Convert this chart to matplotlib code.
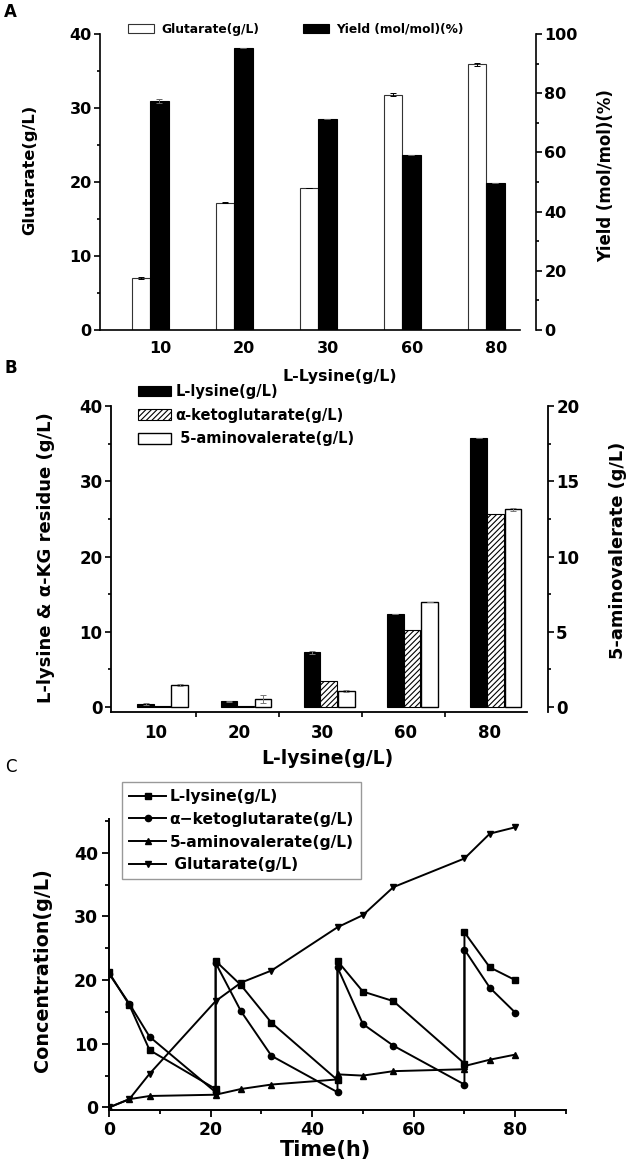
import numpy as np
import matplotlib.pyplot as plt
from matplotlib.ticker import MultipleLocator, FixedLocator

plt.rcParams['font.family'] = ['DejaVu Sans']
plt.rcParams['font.weight'] = 'bold'
plt.rcParams['hatch.linewidth'] = 0.8

# panel A
feed = ['10', '20', '30', '60', '80']
glutarate_A = [7.0, 17.2, 19.2, 31.8, 35.9]
glutarate_A_err = [0.1, 0.1, 0.0, 0.2, 0.2]
yield_A = [77.3, 95.4, 71.2, 59.0, 49.8]
yield_A_err = [0.6, 0.0, 0.0, 0.0, 0.0]

# panel B
lysine_B = [0.4, 0.75, 7.25, 12.3, 35.8]
lysine_B_err = [0.1, 0.05, 0.15, 0.0, 0.0]
akg_B = [0.15, 0.15, 3.5, 10.2, 25.6]
ava_B = [1.45, 0.55, 1.05, 6.95, 13.15]
ava_B_err = [0.05, 0.25, 0.05, 0.0, 0.1]

# panel C
t_lys = [0, 4, 8, 21, 21, 26, 32, 45, 45, 50, 56, 70, 70, 75, 80]
lysine_C = [21.2, 16.1, 9.0, 2.9, 23.0, 19.2, 13.3, 4.3, 23.0, 18.2, 16.7, 6.9, 27.5, 22.0, 20.0]
akg_C = [21.0, 16.3, 11.1, 2.4, 22.7, 15.1, 8.1, 2.4, 22.0, 13.1, 9.7, 3.6, 24.8, 18.8, 14.9]
t_ava = [0, 4, 8, 21, 26, 32, 45, 45, 50, 56, 70, 70, 75, 80]
ava_C = [0.0, 1.3, 1.8, 2.0, 2.9, 3.6, 4.4, 5.2, 5.0, 5.7, 6.0, 6.5, 7.5, 8.3]
t_glu = [0, 4, 8, 21, 26, 32, 45, 50, 56, 70, 75, 80]
glutarate_C = [0.0, 1.3, 5.3, 16.7, 19.6, 21.5, 28.3, 30.2, 34.6, 39.1, 43.0, 44.0]

W, H = 632, 1168
fig = plt.figure(figsize=(W / 100, H / 100), dpi=100)


def fx(px):
    return px / W


def fy(py):
    return 1 - py / H


def box(x0, x1, y_top, y_bot):
    return [fx(x0), fy(y_bot), (x1 - x0) / W, (y_bot - y_top) / H]


ekw = dict(ecolor='black', elinewidth=0.7, capsize=2, capthick=0.7)

# ---------------- A ----------------
axA = fig.add_axes(box(100, 520, 34, 330))
x = np.arange(len(feed))
axA.bar(x - 0.107, glutarate_A, 0.205, color='white', edgecolor='#333333', linewidth=0.8,
        yerr=glutarate_A_err, error_kw=ekw)
axA.set_xlim(-0.595, 4.405)
axA.set_ylim(0, 40)
axA.set_xticks(x + 0.12)
axA.set_xticklabels(feed)
axA.tick_params(axis='x', length=0, pad=8, labelsize=11.5)
axA.yaxis.set_major_locator(MultipleLocator(10))
axA.yaxis.set_minor_locator(MultipleLocator(5))
axA.tick_params(axis='y', which='major', length=4, width=1.2, labelsize=11.5, pad=2)
axA.tick_params(axis='y', which='minor', length=2.5, width=1.2)
for s in ['top', 'right']:
    axA.spines[s].set_visible(False)
for s in ['left', 'bottom']:
    axA.spines[s].set_linewidth(1.2)

axA2 = axA.twinx()
axA2.bar(x + 0.113, yield_A, 0.226, color='black', edgecolor='black', linewidth=0.8,
         yerr=yield_A_err, error_kw=dict(ekw, ecolor='#666666'))
axA2.set_ylim(0, 100)
axA2.yaxis.set_major_locator(MultipleLocator(20))
axA2.yaxis.set_minor_locator(MultipleLocator(10))
axA2.tick_params(axis='y', which='major', length=4, width=1.2, labelsize=11.5, pad=2)
axA2.tick_params(axis='y', which='minor', length=2.5, width=1.2)
for s in ['top', 'left', 'bottom']:
    axA2.spines[s].set_visible(False)
axA2.spines['right'].set_position(('outward', 11.5))
axA2.spines['right'].set_linewidth(1.2)

hA = [axA.patches[0], axA2.patches[0]]
fig.legend(hA, ['Glutarate(g/L)', 'Yield (mol/mol)(%)'], loc='center left',
           bbox_to_anchor=(fx(128), fy(29)), bbox_transform=fig.transFigure,
           ncol=2, frameon=False, fontsize=8.8, handlelength=2.1, handleheight=0.7,
           handletextpad=0.6, columnspacing=3.6, borderpad=0, borderaxespad=0)

fig.text(fx(30), fy(170), 'Glutarate(g/L)', rotation=90, ha='center', va='center', fontsize=11.7)
fig.text(fx(606), fy(176), 'Yield (mol/mol)(%)', rotation=90, ha='center', va='center', fontsize=11.9)
fig.text(fx(340), fy(376), 'L-Lysine(g/L)', ha='center', va='center', fontsize=11.3)
fig.text(fx(4), fy(12), 'A', ha='left', va='center', fontsize=12)

# ---------------- B ----------------
axB = fig.add_axes(box(111, 527, 406, 712))
axB.bar(x - 0.1, lysine_B, 0.2, color='black', edgecolor='black', linewidth=0.8,
        yerr=lysine_B_err, error_kw=dict(ekw, ecolor='#777777'))
axB.bar(x + 0.1, akg_B, 0.2, color='white', edgecolor='black', linewidth=0.8, hatch='//////')
axB.set_xlim(-0.515, 4.479)
axB.set_ylim(-0.66, 40)
axB.set_xticks(x + 0.024)
axB.set_xticklabels(feed)
axB.xaxis.set_minor_locator(FixedLocator(x[:-1] + 0.5))
axB.tick_params(axis='x', which='major', length=0, pad=9, labelsize=12)
axB.tick_params(axis='x', which='minor', length=3.5, width=1.2)
axB.yaxis.set_major_locator(MultipleLocator(10))
axB.yaxis.set_minor_locator(MultipleLocator(5))
axB.tick_params(axis='y', which='major', length=4, width=1.2, labelsize=12, pad=2)
axB.tick_params(axis='y', which='minor', length=2.5, width=1.2)
for s in ['top', 'right']:
    axB.spines[s].set_visible(False)
for s in ['left', 'bottom']:
    axB.spines[s].set_linewidth(1.3)

axB2 = axB.twinx()
axB2.bar(x + 0.31, ava_B, 0.2, color='white', edgecolor='black', linewidth=1.0,
         yerr=ava_B_err, error_kw=dict(ekw, ecolor='#777777'))
axB2.set_ylim(-0.33, 20)
axB2.yaxis.set_major_locator(MultipleLocator(5))
axB2.yaxis.set_minor_locator(MultipleLocator(2.5))
axB2.tick_params(axis='y', which='major', length=4, width=1.2, labelsize=12, pad=2)
axB2.tick_params(axis='y', which='minor', length=2.5, width=1.2)
for s in ['top', 'left', 'bottom']:
    axB2.spines[s].set_visible(False)
axB2.spines['right'].set_position(('outward', 15))
axB2.spines['right'].set_linewidth(1.3)

hB = [axB.patches[0], axB.patches[5], axB2.patches[0]]
fig.legend(hB, ['L-lysine(g/L)', 'α-ketoglutarate(g/L)', ' 5-aminovalerate(g/L)'],
           loc='upper left', bbox_to_anchor=(fx(138), fy(384)), bbox_transform=fig.transFigure,
           frameon=False, fontsize=10.5, handlelength=2.25, handleheight=0.75,
           handletextpad=0.3, labelspacing=0.6, borderpad=0, borderaxespad=0)

fig.text(fx(46), fy(558), 'L-lysine & α-KG residue (g/L)', rotation=90,
         ha='center', va='center', fontsize=13)
fig.text(fx(618), fy(550), '5-aminovalerate (g/L)', rotation=90,
         ha='center', va='center', fontsize=12.8)
fig.text(fx(327), fy(758), 'L-lysine(g/L)', ha='center', va='center', fontsize=13.6)
fig.text(fx(5), fy(368), 'B', ha='left', va='center', fontsize=12)

# ---------------- C ----------------
axC = fig.add_axes(box(109, 566, 819, 1110))
lkw = dict(color='black', linewidth=1.4, markersize=4.5)
axC.plot(t_lys, lysine_C, marker='s', label='L-lysine(g/L)', **lkw)
axC.plot(t_lys, akg_C, marker='o', label='α−ketoglutarate(g/L)', **lkw)
axC.plot(t_ava, ava_C, marker='^', label='5-aminovalerate(g/L)', **lkw)
axC.plot(t_glu, glutarate_C, marker='v', label=' Glutarate(g/L)', **lkw)
axC.set_xlim(0, 90)
axC.set_ylim(-0.4, 45.3)
axC.xaxis.set_major_locator(MultipleLocator(20))
axC.xaxis.set_minor_locator(MultipleLocator(10))
axC.yaxis.set_major_locator(MultipleLocator(10))
axC.yaxis.set_minor_locator(MultipleLocator(5))
axC.tick_params(which='major', length=5, width=1.3, labelsize=12.4, pad=3)
axC.tick_params(which='minor', length=3, width=1.3)
for s in ['top', 'right']:
    axC.spines[s].set_visible(False)
for s in ['left', 'bottom']:
    axC.spines[s].set_linewidth(1.4)

legC = axC.legend(loc='upper left', bbox_to_anchor=(fx(122), fy(782)),
                  bbox_transform=fig.transFigure, fontsize=11.2, handlelength=2.4,
                  handletextpad=0.2, labelspacing=0.5, borderpad=0.45, borderaxespad=0,
                  fancybox=False, framealpha=1, edgecolor='#999999')
legC.get_frame().set_linewidth(1.0)

fig.text(fx(43), fy(970), 'Concentration(g/L)', rotation=90, ha='center', va='center', fontsize=13.8)
fig.text(fx(325), fy(1150), 'Time(h)', ha='center', va='center', fontsize=15)
fig.text(fx(5), fy(767), 'C', ha='left', va='center', fontsize=12, fontweight='normal')

fig.savefig('out.png', dpi=100)
